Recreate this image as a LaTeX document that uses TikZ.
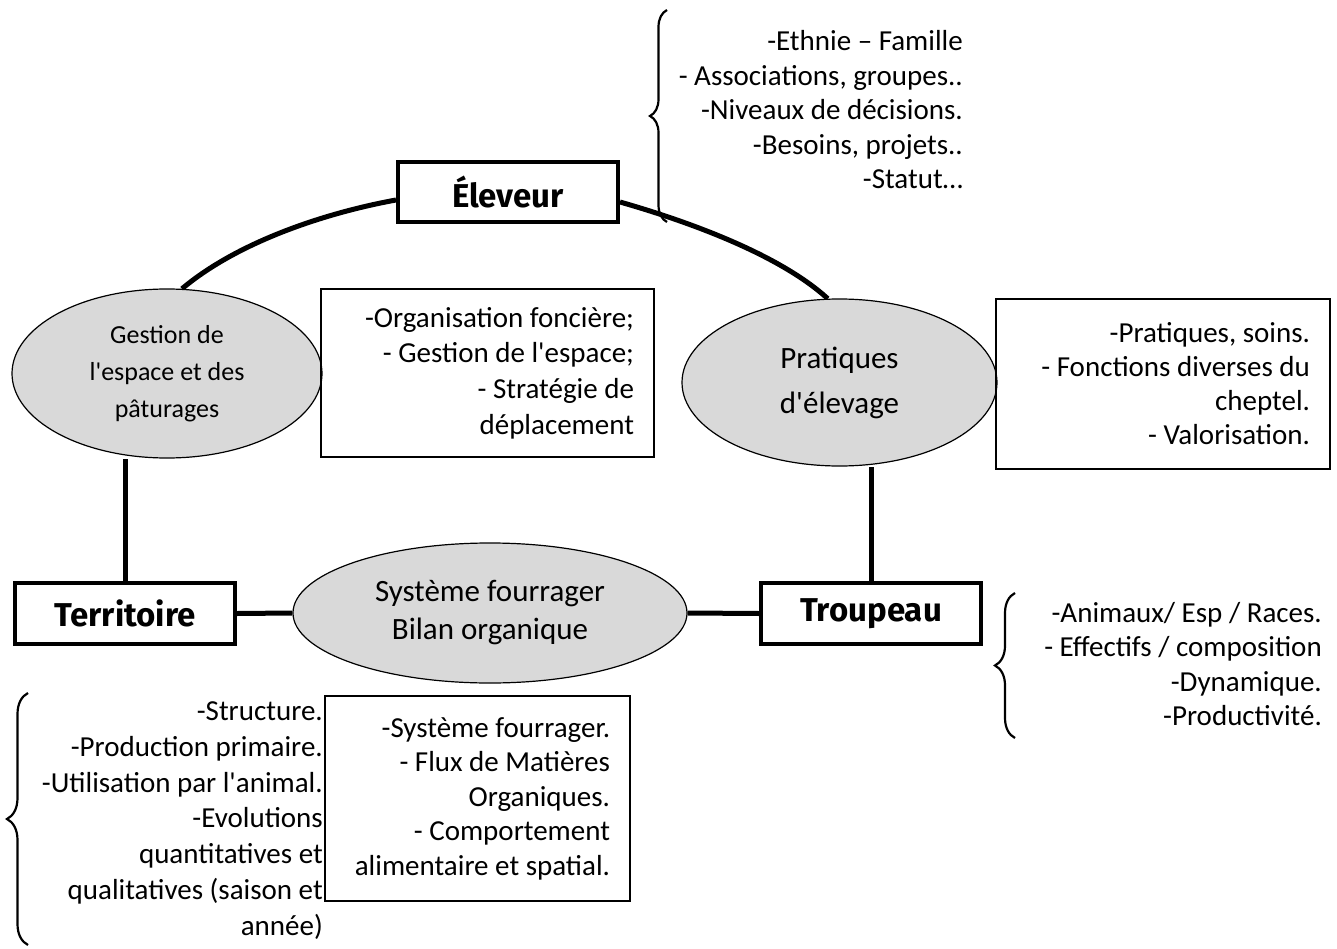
\documentclass[tikz,border=0pt]{standalone}
\usepackage{fontspec}
\setmainfont{Carlito}
\newfontfamily\bodyfont{Carlito}
\newfontfamily\lblfont{Fira Sans}
\usetikzlibrary{shapes.geometric,decorations.pathreplacing,backgrounds}
\definecolor{ellgray}{HTML}{D9D9D9}
\begin{document}
\begin{tikzpicture}[x=1pt,y=-1pt,
  conn/.style={line width=5pt},
  mainbox/.style={draw, line width=4pt, rectangle, fill=white, inner sep=0pt,
    font=\lblfont\bfseries\fontsize{33}{38}\selectfont},
  topic/.style={ellipse, draw, line width=1.2pt, fill=ellgray, inner sep=0pt, align=center},
  listbox/.style={draw, line width=1.5pt, rectangle, inner ysep=0pt, align=flush right},
  listtext/.style={align=flush right, inner sep=0pt, font=\bodyfont\fontsize{29}{34.5}\selectfont},
  curly/.style={decorate, decoration={brace, amplitude=#1}, line width=2.2pt}
]
\useasboundingbox (0,0) rectangle (1337,949);

% main boxes
\node[mainbox, minimum width=220pt, minimum height=60pt] (elev) at (508,192) {Éleveur};
\node[mainbox, minimum width=220pt, minimum height=61pt] (terr) at (125,613.5) {Territoire};
\node[mainbox, minimum width=220pt, minimum height=61pt] (troup) at (871,613.5) {Troupeau};

% ellipses
\node[topic, minimum width=310pt, minimum height=169pt, font=\bodyfont\fontsize{26}{37}\selectfont]
  (gest) at (167,373.5) {Gestion de\\l'espace et des\\pâturages};
\node[topic, minimum width=315pt, minimum height=167pt, font=\bodyfont\fontsize{31}{45}\selectfont]
  (prat) at (839.5,382.5) {Pratiques\\d'élevage};
\node[topic, minimum width=394pt, minimum height=140pt, font=\bodyfont\fontsize{31}{38}\selectfont]
  (sys) at (490,613) {Système fourrager\\Bilan organique};

% text boxes
\node[listbox, minimum width=333pt, minimum height=168pt, text width=293pt, inner xsep=20pt,
  font=\bodyfont\fontsize{29}{35.7}\selectfont]
  (orgbox) at (487.5,373) {-Organisation foncière;\\- Gestion de l'espace;\\- Stratégie de\\déplacement};
\node[listbox, minimum width=334pt, minimum height=170pt, text width=294pt, inner xsep=20pt,
  font=\bodyfont\fontsize{29}{34}\selectfont]
  (pratbox) at (1163,384) {-Pratiques, soins.\\- Fonctions diverses du\\cheptel.\\- Valorisation.};
\node[listbox, minimum width=305pt, minimum height=205pt, text width=265pt, inner xsep=20pt,
  font=\bodyfont\fontsize{29}{34.5}\selectfont]
  (sysbox) at (477.5,798.5) {-Système fourrager.\\- Flux de Matières\\Organiques.\\- Comportement\\alimentaire et spatial.};

% free lists
\node[listtext, anchor=east] (elevlist) at (963,110)
  {-Ethnie – Famille\\- Associations, groupes..\\-Niveaux de décisions.\\-Besoins, projets..\\-Statut…};
\node[listtext, anchor=east] (trouplist) at (1322,664)
  {-Animaux/ Esp / Races.\\- Effectifs / composition\\-Dynamique.\\-Productivité.};
\node[listtext, anchor=east, font=\bodyfont\fontsize{29}{35.8}\selectfont] (terrlist) at (323,820.5)
  {-Structure.\\-Production primaire.\\-Utilisation par l'animal.\\-Evolutions\\quantitatives et\\qualitatives (saison et\\année)};

% braces
\coordinate (b1a) at (667,222); \coordinate (b1b) at (667,10);
\draw[curly=17pt] (b1a) -- (b1b);
\coordinate (b2a) at (1015,738); \coordinate (b2b) at (1015,593);
\draw[curly=20pt] (b2a) -- (b2b);
\coordinate (b3a) at (28,945); \coordinate (b3b) at (28,693);
\draw[curly=21pt] (b3a) -- (b3b);

% connectors
\begin{scope}[on background layer]
\draw[conn] (gest.80) .. controls (240,240) and (330,212) .. ([yshift=-8pt]elev.west);
\draw[conn] ([yshift=-10pt]elev.east) .. controls (690,222) and (780,255) .. (prat.98);
\draw[conn] (terr.north) -- (terr.north |- gest.south);
\draw[conn] (terr.east) -- (sys.west);
\draw[conn] (sys.east) -- (troup.west);
\draw[conn] (troup.north) -- (troup.north |- prat.south);
\end{scope}
\end{tikzpicture}
\end{document}
